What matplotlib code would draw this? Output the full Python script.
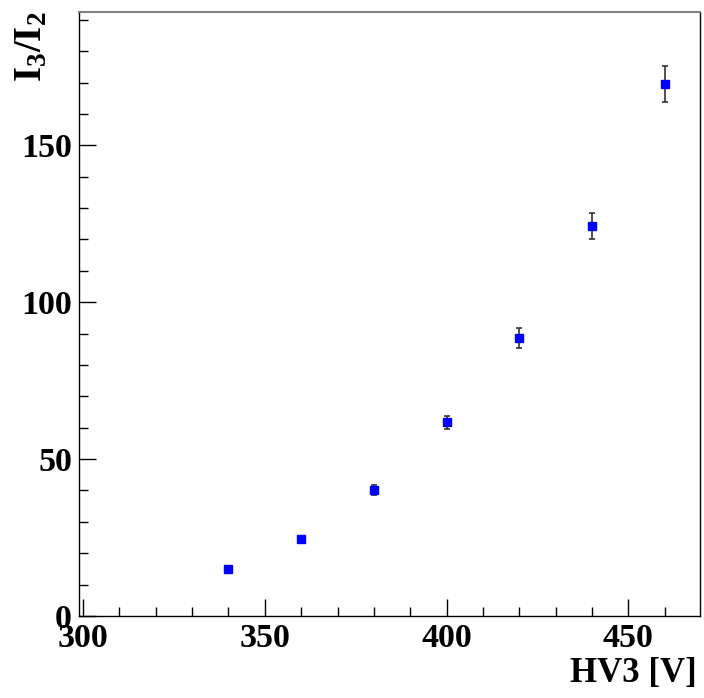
import matplotlib
matplotlib.use("Agg")
import matplotlib.pyplot as plt
from matplotlib.ticker import MultipleLocator

hv = [340, 360, 380, 400, 420, 440, 460]
ratio = [14.9, 24.4, 40.1, 61.7, 88.6, 124.3, 169.5]
err = [0.6, 0.9, 1.6, 2.1, 3.2, 4.2, 5.7]

plt.rcParams['mathtext.fontset'] = 'custom'
plt.rcParams['mathtext.rm'] = 'Liberation Serif:bold'
plt.rcParams['mathtext.bf'] = 'Liberation Serif:bold'
plt.rcParams['mathtext.it'] = 'Liberation Serif:bold'
plt.rcParams['font.family'] = 'Liberation Serif'
plt.rcParams['font.weight'] = 'bold'

W, H = 704, 698
fig = plt.figure(figsize=(W/100, H/100), dpi=100)
ax = fig.add_axes([79/W, (H-616)/H, (700-79)/W, (616-12)/H])

ax.errorbar(hv, ratio, yerr=err, fmt='s', color='#0000ff', markersize=5.5,
            ecolor='#333333', elinewidth=1.2, capsize=2, capthick=1.2, zorder=3)

ax.set_xlim(298.9, 469.7)
ax.set_ylim(0, 192.5)
ax.xaxis.set_major_locator(MultipleLocator(50))
ax.xaxis.set_minor_locator(MultipleLocator(10))
ax.yaxis.set_major_locator(MultipleLocator(50))
ax.yaxis.set_minor_locator(MultipleLocator(10))
ax.tick_params(which='both', direction='in', top=False, right=False,
               labelsize=24.5, width=1)
ax.tick_params(which='major', length=12.5)
ax.tick_params(which='minor', length=6.5)
ax.tick_params(axis='x', pad=5)
ax.tick_params(axis='y', pad=5)
for lab in ax.get_xticklabels() + ax.get_yticklabels():
    lab.set_fontweight('bold')

ax.spines['top'].set_color('#808080')
ax.spines['top'].set_linewidth(1.5)
for s in ['left', 'bottom', 'right']:
    ax.spines[s].set_color('black')
    ax.spines[s].set_linewidth(1)

fig.text(697/W, (H-682)/H, 'HV3 [V]', ha='right', va='baseline',
         fontsize=25, fontweight='bold')
fig.text(50/W, (H-11)/H, r'$\mathbf{I_{3}/I_{2}}$', ha='right', va='top',
         rotation=90, fontsize=28, fontweight='bold')

fig.savefig('out.png', dpi=100)
